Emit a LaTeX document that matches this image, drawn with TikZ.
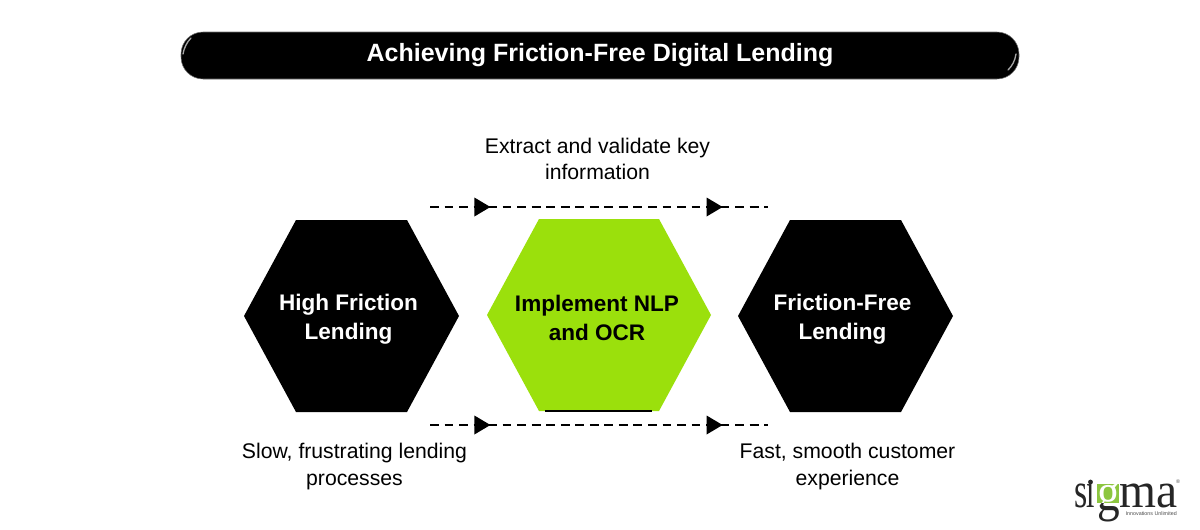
\documentclass[tikz,border=0pt]{standalone}
\usepackage{fontspec}
\setmainfont{Liberation Sans}
\newfontfamily\logofont{Liberation Serif}
\usetikzlibrary{decorations.markings,arrows.meta}
\definecolor{lime}{HTML}{9BE00C}
\definecolor{logogreen}{HTML}{8CC63F}
\tikzset{
  x=0.75pt,y=-0.75pt,
  hexblack/.style={fill=black,draw=none},
  hexgreen/.style={fill=lime,draw=none},
  hexlabel/.style={font=\bfseries\fontsize{16.9}{21.6}\selectfont,align=center,text=white},
  caption/.style={font=\fontsize{15.9}{19.6}\selectfont,align=center,text=black},
  logotext/.style={font=\logofont\fontsize{37.5}{37.5}\selectfont,text=black!85,anchor=base west,inner sep=0pt},
  logog/.style={font=\logofont\fontsize{40}{40}\selectfont,anchor=base west,inner sep=0pt,xscale=0.85},
  flow/.style={draw=black,line width=1.6pt,dash pattern=on 6.6pt off 4.3pt,
    postaction={decorate},
    decoration={markings,
      mark=at position 0.155 with {\fill[black,solid] (-8,-9.5)--(8,0)--(-8,9.5)--cycle;},
      mark=at position 0.842 with {\fill[black,solid] (-8,-9.5)--(8,0)--(-8,9.5)--cycle;}}},
}
\begin{document}
\begin{tikzpicture}
\useasboundingbox[fill=white] (0,0) rectangle (1200,529);
% title
\draw[draw=black!55,line width=0.4pt,fill=black,rounded corners=16.5pt] (181,32) rectangle (1019,79);
\draw[black!35,line width=1pt,line cap=round] (191,38) .. controls (187,42) and (184,48) .. (183,54);
\draw[black!35,line width=1pt,line cap=round] (1016,54) .. controls (1015,61) and (1012,66) .. (1008,70);
\node[font=\bfseries\fontsize{18.75}{23}\selectfont,text=white] (title) at (600,55.5) {Achieving Friction-Free Digital Lending};
% connectors
\coordinate (tl) at (430,207); \coordinate (tr) at (768,207);
\coordinate (bl) at (430,425); \coordinate (br) at (768,425);
\path[flow] (tl) -- (tr);
\path[flow] (bl) -- (br);
% hexagons
\fill[hexblack] (244,316)--(296,220)--(407,220)--(459,316)--(407,412)--(296,412)--cycle;
\node[hexlabel] (high) at (348.5,319) {High Friction\\Lending};
\fill[hexgreen] (487,315)--(539,219)--(659,219)--(711,315)--(659,411)--(539,411)--cycle;
\draw[black,line width=0.8pt] (545,411)--(652,411);
\node[hexlabel,text=black] (impl) at (597,318) {Implement NLP\\and OCR};
\fill[hexblack] (738,316)--(790,220)--(901,220)--(953,316)--(901,412)--(790,412)--cycle;
\node[hexlabel] (free) at (842.5,319) {Friction-Free\\Lending};
% captions
\node[caption] (c1) at (597.5,159) {Extract and validate key\\information};
\node[caption] (c2) at (354.5,466.5) {Slow, frustrating lending\\processes};
\node[caption] (c3) at (847.5,466.5) {Fast, smooth customer\\experience};
% logo
\node[logotext,xscale=0.68] (logo1) at (1074,507) {s};
\node[logotext,xscale=0.6] (logo1b) at (1086.5,507) {ı};
\fill[black!85] (1090.5,482) circle[radius=2.4];
\fill[logogreen] (1097,484) rectangle (1119,503);
\begin{scope}
\clip (1095,470) rectangle (1125,503);
\node[logog,text=white] (logo2a) at (1097,510) {g};
\end{scope}
\begin{scope}
\clip (1095,503) rectangle (1125,525);
\node[logog,text=black!85] (logo2b) at (1097,510) {g};
\end{scope}
\node[logotext,xscale=0.95] (logo3) at (1119.5,507) {ma};
\node[font=\fontsize{4}{4}\selectfont,text=black!70,anchor=base east,inner sep=0pt] (logo4) at (1177,515) {Innovations Unlimited};
\node[font=\fontsize{4}{4}\selectfont,text=black!70,inner sep=0pt] (logo5) at (1178,482) {®};
\end{tikzpicture}
\end{document}
